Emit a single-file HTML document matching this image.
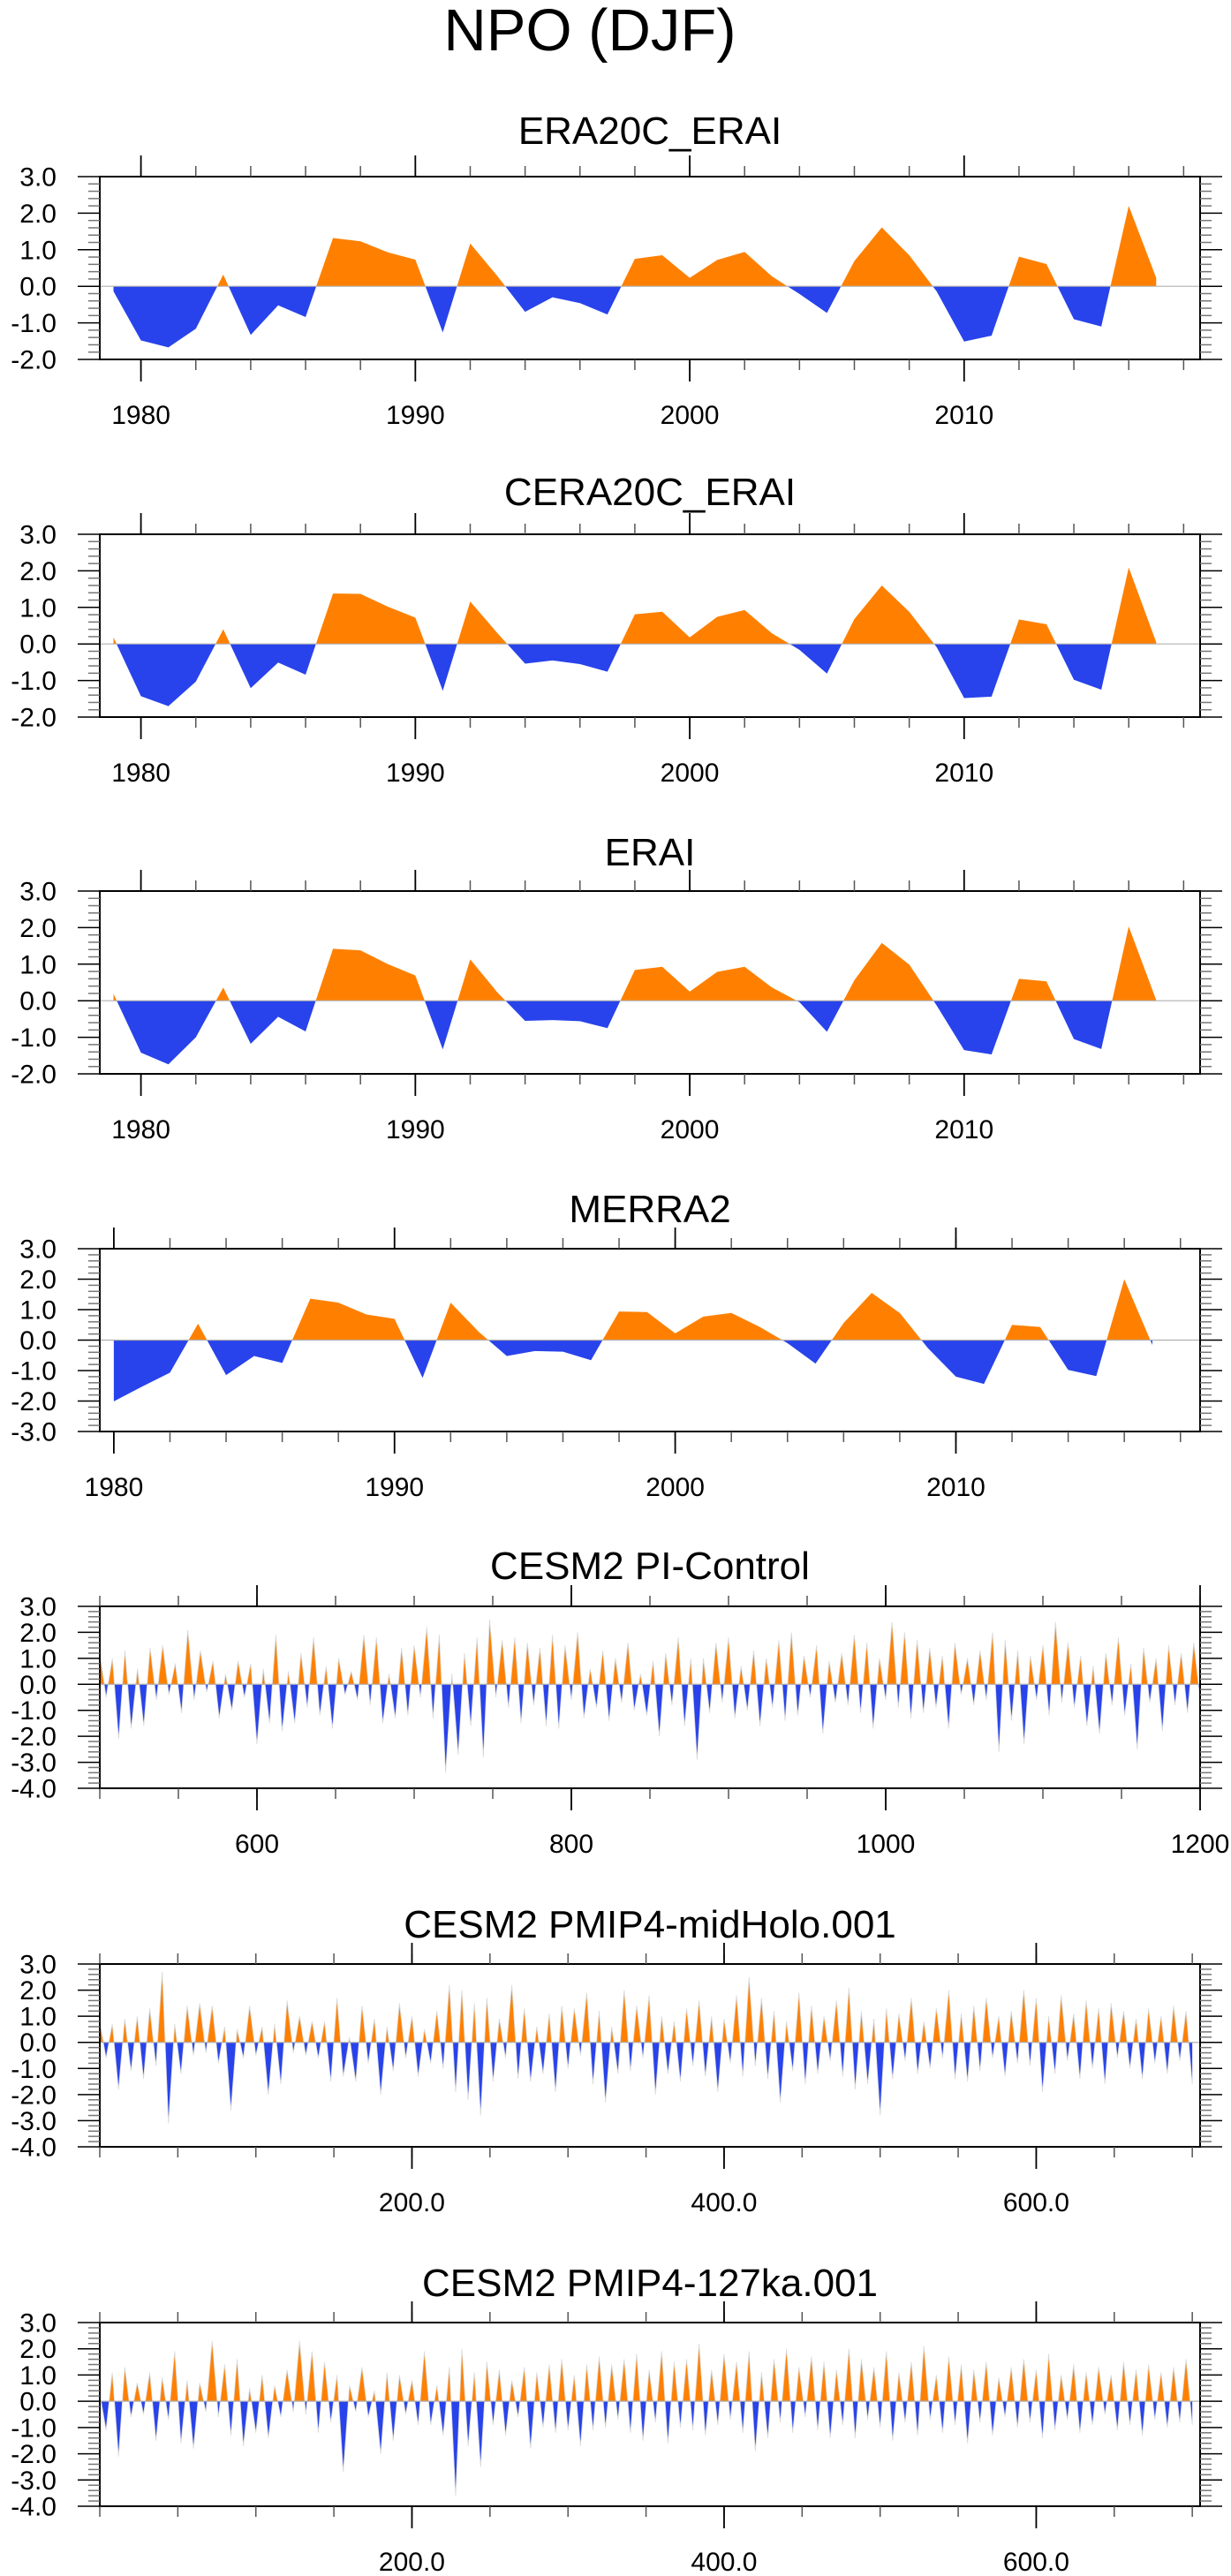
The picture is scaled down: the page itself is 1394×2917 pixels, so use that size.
<!DOCTYPE html>
<html>
<head>
<meta charset="utf-8">
<style>
  html,body{margin:0;padding:0;background:#fff;}
  svg{display:block;}
  text{font-family:"Liberation Sans",Helvetica,Arial,sans-serif;fill:#000;}
</style>
</head>
<body>
<svg id="fig" width="1394" height="2917" viewBox="0 0 1394 2917" xmlns="http://www.w3.org/2000/svg">
  <rect x="0" y="0" width="1394" height="2917" fill="#fff"/>
  <text x="668" y="57" font-size="67" text-anchor="middle">NPO (DJF)</text>
</svg>
<script>
// ---------- data ----------
const eraYears = [1979,1980,1981,1982,1983,1984,1985,1986,1987,1988,1989,1990,1991,1992,1993,1994,1995,1996,1997,1998,1999,2000,2001,2002,2003,2004,2005,2006,2007,2008,2009,2010,2011,2012,2013,2014,2015,2016,2017];
const era20cValues = [-0.14,-1.48,-1.67,-1.16,0.32,-1.33,-0.52,-0.84,1.32,1.23,0.93,0.73,-1.26,1.17,0.27,-0.70,-0.30,-0.46,-0.77,0.75,0.85,0.23,0.72,0.94,0.27,-0.21,-0.73,0.69,1.61,0.85,-0.14,-1.51,-1.35,0.81,0.61,-0.90,-1.10,2.20,0.23];
const cera20cValues = [0.18,-1.43,-1.70,-1.03,0.40,-1.21,-0.51,-0.84,1.38,1.37,1.02,0.72,-1.28,1.16,0.29,-0.54,-0.45,-0.55,-0.76,0.81,0.88,0.18,0.74,0.93,0.29,-0.16,-0.81,0.68,1.60,0.88,-0.09,-1.48,-1.44,0.67,0.54,-0.98,-1.25,2.09,0.05];
const eraiValues = [0.19,-1.42,-1.74,-1.00,0.36,-1.18,-0.44,-0.84,1.42,1.38,1.00,0.69,-1.33,1.13,0.22,-0.55,-0.53,-0.56,-0.75,0.84,0.93,0.25,0.79,0.93,0.36,-0.04,-0.85,0.56,1.58,0.99,-0.13,-1.35,-1.47,0.60,0.53,-1.05,-1.32,2.03,0.02];
const merraYears = [1980,1981,1982,1983,1984,1985,1986,1987,1988,1989,1990,1991,1992,1993,1994,1995,1996,1997,1998,1999,2000,2001,2002,2003,2004,2005,2006,2007,2008,2009,2010,2011,2012,2013,2014,2015,2016,2017];
const merraValues = [-2.01,-1.53,-1.07,0.54,-1.15,-0.52,-0.75,1.36,1.23,0.84,0.70,-1.24,1.23,0.27,-0.52,-0.36,-0.38,-0.66,0.94,0.92,0.22,0.77,0.89,0.44,-0.10,-0.77,0.56,1.55,0.89,-0.26,-1.20,-1.44,0.50,0.43,-0.98,-1.18,2.00,-0.16];

const piStart = 500, piStep = 4;
const piValues = [
1.2,-0.5,1.0,-2.1,1.3,-1.7,0.6,-1.6,1.4,-0.6,1.5,-0.4,0.8,-1.1,2.1,-0.6,
1.3,-0.3,0.9,-1.3,0.4,-1.0,0.9,-0.5,0.8,-2.3,0.6,-1.5,1.9,-1.8,0.5,-1.5,
1.2,-0.9,1.8,-1.2,0.7,-1.7,1.0,-0.4,0.5,-0.6,1.9,-0.8,1.8,-1.5,0.4,-1.3,
1.4,-1.2,1.5,-0.5,2.2,-1.3,1.9,-3.4,0.4,-2.7,1.2,-1.6,1.8,-2.8,2.5,-0.5,
1.7,-0.9,1.8,-1.5,1.6,-0.8,1.4,-1.6,1.9,-1.7,1.5,-0.6,2.0,-1.3,0.6,-0.9,
1.3,-1.4,1.0,-0.7,1.6,-1.0,0.4,-1.2,0.9,-2.0,1.2,-0.8,1.8,-1.6,1.0,-2.9,
1.0,-1.1,1.6,-0.7,1.8,-1.3,0.7,-1.0,1.3,-1.6,1.0,-0.9,1.7,-1.4,2.0,-1.2,
1.1,-0.5,1.5,-1.9,0.9,-0.7,1.2,-0.8,1.9,-1.1,1.6,-1.7,1.0,-0.6,2.4,-0.9,
2.0,-1.3,1.7,-1.1,1.4,-0.9,1.1,-1.7,1.6,-0.4,1.0,-0.8,1.3,-0.6,2.0,-2.6,
1.7,-1.4,1.3,-2.3,1.1,-0.6,1.5,-1.2,2.4,-0.7,1.6,-0.9,1.1,-1.6,0.7,-1.9,
1.2,-0.8,1.8,-1.2,0.8,-2.5,1.4,-0.7,1.0,-1.8,1.5,-0.8,1.2,-1.1,1.6,-0.6];

const holoStart = 0, holoStep = 4;
const midHoloValues = [
0.8,-0.6,0.7,-1.8,0.9,-1.1,1.0,-1.4,1.3,-0.9,2.7,-3.1,0.7,-1.2,1.4,-0.5,
1.5,-0.4,1.4,-0.8,0.6,-2.6,0.5,-0.6,1.4,-0.5,0.6,-2.0,0.7,-1.6,1.6,-0.4,
1.0,-0.5,0.8,-0.6,0.8,-1.5,1.7,-1.3,0.2,-1.5,1.4,-0.8,0.9,-2.0,0.6,-1.1,
1.5,-0.6,1.0,-1.3,0.5,-0.8,1.2,-1.0,2.2,-1.9,2.0,-2.2,1.5,-2.8,1.7,-1.5,
0.9,-0.6,2.2,-1.4,1.3,-1.5,0.6,-1.2,1.1,-1.9,1.4,-1.0,1.3,-0.5,1.9,-1.6,
1.2,-2.3,0.6,-1.2,2.0,-1.1,1.4,-0.6,1.8,-2.0,1.0,-1.2,0.8,-1.5,1.3,-0.9,
1.6,-1.3,1.0,-1.9,0.9,-0.8,1.8,-1.3,2.5,-0.9,1.7,-1.4,1.2,-2.3,0.8,-1.1,
1.9,-1.6,1.4,-1.2,1.0,-0.7,1.6,-1.3,2.1,-1.8,1.2,-1.6,0.9,-2.8,1.3,-1.4,
1.1,-0.7,1.7,-1.2,0.8,-1.0,1.3,-0.6,2.0,-1.4,1.1,-1.5,1.4,-1.1,1.7,-0.6,
1.0,-1.3,1.2,-0.8,2.0,-0.9,1.7,-1.9,1.0,-1.2,1.8,-0.7,1.1,-1.4,1.6,-1.0,
1.3,-1.6,1.5,-0.6,1.2,-1.0,0.9,-1.4,1.3,-0.8,1.0,-1.2,1.4,-0.7,1.2,-1.6];

const ka127Values = [
0.3,-1.1,1.1,-2.1,1.3,-0.6,0.7,-0.5,1.1,-1.5,0.9,-0.7,1.9,-1.6,0.8,-1.8,
0.7,-0.4,2.3,-0.6,1.4,-1.3,1.6,-1.7,0.5,-1.2,1.0,-1.4,0.6,-0.6,1.2,-0.4,
2.3,-0.5,1.9,-1.2,1.5,-0.8,1.0,-2.7,0.6,-0.4,1.3,-0.6,0.4,-2.0,1.1,-1.5,
1.0,-0.5,0.8,-0.9,1.9,-0.9,0.6,-1.3,1.3,-3.6,2.0,-1.7,1.1,-2.5,1.5,-0.9,
1.2,-1.3,0.8,-0.6,1.3,-1.8,1.1,-1.0,1.4,-1.2,1.6,-1.1,1.0,-1.7,1.4,-1.1,
1.7,-1.0,1.4,-0.7,1.6,-1.2,1.8,-1.5,1.2,-0.8,1.9,-1.6,1.5,-1.0,1.6,-1.1,
2.2,-1.3,1.2,-0.9,1.8,-0.7,1.5,-1.2,1.9,-1.9,1.1,-1.4,1.6,-0.8,2.0,-1.2,
1.3,-0.6,1.7,-1.1,1.5,-1.4,1.2,-0.9,2.0,-1.4,1.6,-0.7,1.3,-1.0,1.9,-1.5,
1.1,-0.8,1.5,-1.3,2.1,-0.7,1.0,-1.2,1.7,-0.9,1.4,-1.6,1.2,-0.8,1.5,-1.3,
0.9,-0.6,1.3,-1.0,1.6,-0.8,1.2,-1.4,1.8,-1.1,1.0,-0.7,1.4,-1.2,1.1,-0.9,
1.3,-0.5,1.0,-1.1,1.5,-0.9,1.2,-1.3,1.4,-0.7,1.1,-1.0,1.3,-0.8,1.6,-0.9];

const yearMajor = [1980,1990,2000,2010];
const yearLabels = ["1980","1990","2000","2010"];
const piMajor = [600,800,1000,1200];
const piLabels = ["600","800","1000","1200"];
const holoMajor = [200,400,600];
const holoLabels = ["200.0","400.0","600.0"];

// ---------- drawing ----------
const NS = "http://www.w3.org/2000/svg";
const svg = document.getElementById("fig");
const L = 113, R = 1359;
const ORANGE = "#ff8000", BLUE = "#2843eb";
function mk(tag, attrs, parent) {
  const e = document.createElementNS(NS, tag);
  for (const k in attrs) e.setAttribute(k, attrs[k]);
  (parent || svg).appendChild(e);
  return e;
}
function seq(start, step, n) { const a = []; for (let i = 0; i < n; i++) a.push(start + step * i); return a; }

let clipId = 0;
function panel(p) {
  const g = mk("g", {});
  
  
  const sx = v => L + (v - p.xmin) / (p.xmax - p.xmin) * (R - L);
  const sy = v => p.bottom - (v - p.ymin) / (p.ymax - p.ymin) * (p.bottom - p.top);
  const z = sy(0);

  // title
  const t = mk("text", { x: 736, y: p.titleY, "font-size": 44, "text-anchor": "middle" }, g);
  
  
  t.textContent = p.title;

  // series fill
  const pts = p.xs.map((x, i) => sx(x).toFixed(2) + "," + sy(p.ys[i]).toFixed(2));
  const poly = pts.join(" ") + " " + sx(p.xs[p.xs.length - 1]).toFixed(2) + "," + z + " " + sx(p.xs[0]).toFixed(2) + "," + z;
  const id = clipId++;
  const defs = mk("defs", {}, g);
  const c1 = mk("clipPath", { id: "up" + id }, defs);
  mk("rect", { x: L, y: p.top, width: R - L, height: z - p.top }, c1);
  const c2 = mk("clipPath", { id: "dn" + id }, defs);
  mk("rect", { x: L, y: z, width: R - L, height: p.bottom - z }, c2);
  const pos = mk("polygon", { points: poly, fill: ORANGE, "clip-path": "url(#up" + id + ")" }, g);
  
  
  const neg = mk("polygon", { points: poly, fill: BLUE, "clip-path": "url(#dn" + id + ")" }, g);
  
  
  if (p.line) {
    const ln = mk("polyline", { points: pts.join(" "), fill: "none", stroke: "#d8d8d8", "stroke-width": 0.8 }, g);
    
    
  }
  // zero line
  const zl = mk("line", { x1: L, x2: R, y1: z, y2: z, stroke: "#b0b0b0", "stroke-width": 1.2 }, g);
  
  

  // frame
  const fr = mk("rect", { x: L, y: p.top, width: R - L, height: p.bottom - p.top, fill: "none", stroke: "#000", "stroke-width": 2 }, g);
  
  

  // x minor ticks
  for (let v = Math.ceil(p.xmin / p.xminor) * p.xminor; v <= p.xmax; v += p.xminor) {
    const x = sx(v);
    mk("line", { x1: x, x2: x, y1: p.top, y2: p.top - 12, stroke: "#555", "stroke-width": 1.5 }, g);
    mk("line", { x1: x, x2: x, y1: p.bottom, y2: p.bottom + 12, stroke: "#555", "stroke-width": 1.5 }, g);
  }
  // x major ticks and labels
  p.xmajor.forEach((v, i) => {
    const x = sx(v);
    mk("line", { x1: x, x2: x, y1: p.top, y2: p.top - 24, stroke: "#000", "stroke-width": 1.8 }, g);
    mk("line", { x1: x, x2: x, y1: p.bottom, y2: p.bottom + 25, stroke: "#000", "stroke-width": 1.8 }, g);
    const lb = mk("text", { x: x, y: p.bottom + 73, "font-size": 30, "text-anchor": "middle" }, g);
    
    
    lb.textContent = p.xlabels[i];
  });
  // y ticks
  for (let k = Math.round(p.ymin * 5); k <= Math.round(p.ymax * 5); k++) {
    const v = k / 5, y = sy(v);
    const major = k % 5 === 0;
    const len = major ? 25 : 13;
    const col = major ? "#000" : "#777";
    mk("line", { x1: L, x2: L - len, y1: y, y2: y, stroke: col, "stroke-width": 1.5 }, g);
    mk("line", { x1: R, x2: R + len, y1: y, y2: y, stroke: col, "stroke-width": 1.5 }, g);
    if (major) {
      const lb = mk("text", { x: 64, y: y + 10.5, "font-size": 30, "text-anchor": "end" }, g);
      
      
      lb.textContent = v.toFixed(1);
    }
  }
}

panel({ name: "panel-era20c-erai", title: "ERA20C_ERAI", titleY: 163, top: 200, bottom: 407, ymin: -2, ymax: 3,
  xmin: 1978.5, xmax: 2018.6, xminor: 2, xmajor: yearMajor, xlabels: yearLabels, xs: eraYears, ys: era20cValues });
panel({ name: "panel-cera20c-erai", title: "CERA20C_ERAI", titleY: 572, top: 605, bottom: 812, ymin: -2, ymax: 3,
  xmin: 1978.5, xmax: 2018.6, xminor: 2, xmajor: yearMajor, xlabels: yearLabels, xs: eraYears, ys: cera20cValues });
panel({ name: "panel-erai", title: "ERAI", titleY: 980, top: 1009, bottom: 1216, ymin: -2, ymax: 3,
  xmin: 1978.5, xmax: 2018.6, xminor: 2, xmajor: yearMajor, xlabels: yearLabels, xs: eraYears, ys: eraiValues });
panel({ name: "panel-merra2", title: "MERRA2", titleY: 1384, top: 1414, bottom: 1621, ymin: -3, ymax: 3,
  xmin: 1979.5, xmax: 2018.7, xminor: 2, xmajor: yearMajor, xlabels: yearLabels, xs: merraYears, ys: merraValues });
panel({ name: "panel-cesm2-picontrol", title: "CESM2 PI-Control", titleY: 1788, top: 1819, bottom: 2025, ymin: -4, ymax: 3,
  xmin: 500, xmax: 1200, xminor: 50, xmajor: piMajor, xlabels: piLabels, line: true,
  xs: seq(piStart, piStep, piValues.length), ys: piValues });
panel({ name: "panel-cesm2-midholo", title: "CESM2 PMIP4-midHolo.001", titleY: 2194, top: 2224, bottom: 2431, ymin: -4, ymax: 3,
  xmin: 0, xmax: 705, xminor: 50, xmajor: holoMajor, xlabels: holoLabels, line: true,
  xs: seq(holoStart, holoStep, midHoloValues.length), ys: midHoloValues });
panel({ name: "panel-cesm2-127ka", title: "CESM2 PMIP4-127ka.001", titleY: 2600, top: 2630, bottom: 2838, ymin: -4, ymax: 3,
  xmin: 0, xmax: 705, xminor: 50, xmajor: holoMajor, xlabels: holoLabels, line: true,
  xs: seq(holoStart, holoStep, ka127Values.length), ys: ka127Values });
</script>
</body>
</html>
